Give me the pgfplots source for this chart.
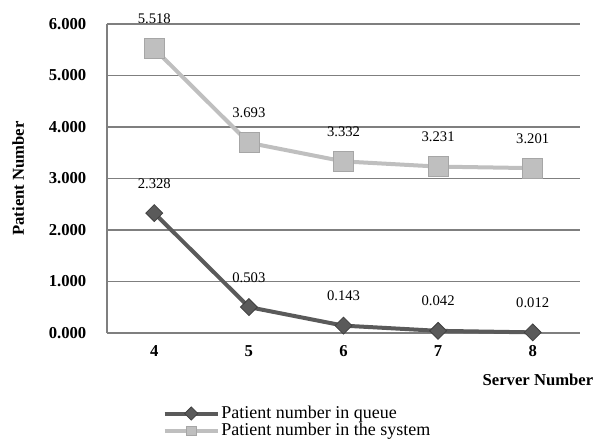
\documentclass[border=0pt]{standalone}
\usepackage{fontspec}
\setmainfont{Liberation Serif}
\usepackage{pgfplots}
\pgfplotsset{compat=1.18}

\definecolor{queuegray}{HTML}{5A5A5A}
\definecolor{queueedge}{HTML}{404040}
\definecolor{sysgray}{HTML}{BFBFBF}
\definecolor{sysedge}{HTML}{A6A6A6}
\definecolor{gridgray}{HTML}{7F7F7F}

\begin{document}
\begin{tikzpicture}
\useasboundingbox (-80.25pt,-84pt) rectangle (368.25pt,249.75pt);
\begin{axis}[
  at={(0,0)}, anchor=south west,
  scale only axis,
  width=354.75pt, height=231.75pt,
  clip=false,
  xmin=3.5, xmax=8.5,
  ymin=0, ymax=6,
  xtick={4,5,6,7,8},
  ytick={0,1,2,3,4,5,6},
  axis x line=bottom, axis y line=left,
  axis line style={draw=gridgray, line width=0.9pt, -},
  x axis line style={draw=none},
  ymajorgrids,
  major grid style={draw=gridgray, line width=0.9pt},
  major tick length=0pt,
  /pgf/number format/assume math mode=true,
  yticklabel={\pgfmathprintnumber[fixed,fixed zerofill,precision=3]{\tick}},
  ticklabel style={font=\fontsize{12.5}{14}\selectfont\bfseries},
  yticklabel style={xshift=-12pt},
  xticklabel style={yshift=-6pt},
  ylabel={Patient Number},
  xlabel={Server Number},
  every axis y label/.style={at={(axis description cs:-0.188,0.5)}, rotate=90, anchor=center,
    font=\fontsize{12.5}{14}\selectfont\bfseries},
  every axis x label/.style={at={(axis description cs:1.038,-0.152)}, anchor=east,
    font=\fontsize{12.5}{14}\selectfont\bfseries},
  nodes near coords={\pgfmathprintnumber[fixed,fixed zerofill,precision=3]{\pgfplotspointmeta}},
  every node near coord/.append style={anchor=south, yshift=15pt, font=\fontsize{11}{13}\selectfont, text=black},
  legend style={at={(axis description cs:0.117,-0.232)}, anchor=north west,
    draw=none, fill=none, inner sep=0pt, row sep=0pt,
    font=\fontsize{13.5}{15}\selectfont,
    nodes={inner sep=1pt}},
  legend cell align=left,
  legend image code/.code={
    \draw[#1, mark=none] (0pt,0pt) -- (40pt,0pt);
    \draw[#1, mark size=3.5pt] plot coordinates {(20pt,0pt)};
  },
]
\addplot[color=queuegray, line width=3pt, mark=square*,
  mark size=4.5pt, mark options={rotate=45, fill=queuegray, draw=queueedge, line width=0.6pt}]
  coordinates {(4,2.328) (5,0.503) (6,0.143) (7,0.042) (8,0.012)};
\addlegendentry{Patient number in queue}
\addplot[color=sysgray, line width=3pt, mark=square*,
  mark size=7.5pt, mark options={fill=sysgray, draw=sysedge, line width=0.6pt}]
  coordinates {(4,5.518) (5,3.693) (6,3.332) (7,3.231) (8,3.201)};
\addlegendentry{Patient number in the system}
\end{axis}
\end{tikzpicture}
\end{document}
